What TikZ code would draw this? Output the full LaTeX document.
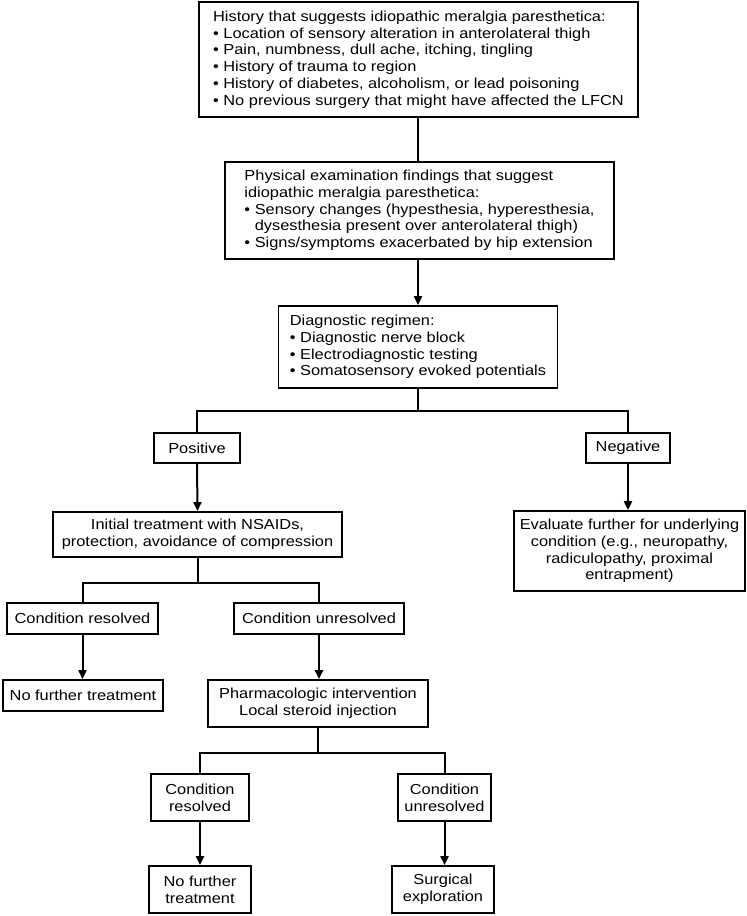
\documentclass[tikz,border=0pt]{standalone}
\usepackage{fontspec}
\setmainfont[FakeStretch=1.13]{Liberation Sans}
\usetikzlibrary{arrows.meta,calc}
\tikzset{
    box/.style =    {rectangle,
                    fill=white,
                    draw=black,
                    text=black,
                    line width=1.8pt,
                    inner sep=4pt,
                    font=\fontsize{14.5}{16.7}\selectfont},
    listbox/.style = {box,
                    align=left},
    midbox/.style = {box,
                    align=center},
    -,
    wire/.style =   {draw=black,
                    line width=2pt},
    >={Triangle[length=9pt,width=8pt]}}
\newcommand{\bul}{\textbullet~}
\newcommand{\bulgap}{\hphantom{\textbullet~}}

\begin{document}
\begin{tikzpicture}[x=1pt,y=-1pt]
    \useasboundingbox (0,0) rectangle (747,916);
    % top of the chart
    \node[listbox, minimum width=439, minimum height=115] (hist) at (418.5,59.5)
        {History that suggests idiopathic meralgia paresthetica:\\
         \bul Location of sensory alteration in anterolateral thigh\\
         \bul Pain, numbness, dull ache, itching, tingling\\
         \bul History of trauma to region\\
         \bul History of diabetes, alcoholism, or lead poisoning\\
         \bul No previous surgery that might have affected the LFCN};
    \node[listbox, minimum width=389, minimum height=97] (exam) at (419.5,210.5)
        {Physical examination findings that suggest\\
         idiopathic meralgia paresthetica:\\
         \bul Sensory changes (hypesthesia, hyperesthesia,\\
         \bulgap dysesthesia present over anterolateral thigh)\\
         \bul Signs/symptoms exacerbated by hip extension};
    \node[listbox, minimum width=279, minimum height=82] (diag) at (418,347)
        {Diagnostic regimen:\\
         \bul Diagnostic nerve block\\
         \bul Electrodiagnostic testing\\
         \bul Somatosensory evoked potentials};
    % positive / negative
    \node[midbox, minimum width=86, minimum height=30] (pos) at (197,448) {Positive};
    \node[midbox, minimum width=84, minimum height=30] (neg) at (628,448) {Negative};
    \node[midbox, minimum width=289, minimum height=45] (init) at (197.5,534.5)
        {Initial treatment with NSAIDs,\\ protection, avoidance of compression};
    \node[midbox, minimum width=231, minimum height=80] (eval) at (629.5,551)
        {Evaluate further for underlying\\ condition (e.g., neuropathy,\\
         radiculopathy, proximal\\ entrapment)};
    % first treatment outcome
    \node[midbox, minimum width=151, minimum height=31] (resA) at (82.5,618.5) {Condition resolved};
    \node[midbox, minimum width=170, minimum height=31] (unresA) at (319,618.5) {Condition unresolved};
    \node[midbox, minimum width=160, minimum height=31] (stopA) at (83,695.5) {No further treatment};
    \node[midbox, minimum width=220, minimum height=47] (pharm) at (318,703.5)
        {Pharmacologic intervention\\ Local steroid injection};
    % second treatment outcome
    \node[midbox, minimum width=98, minimum height=47] (resB) at (200,797.5) {Condition\\ resolved};
    \node[midbox, minimum width=93, minimum height=47] (unresB) at (444.5,797.5) {Condition\\ unresolved};
    \node[midbox, minimum width=102, minimum height=47] (stopB) at (200,889.5) {No further\\ treatment};
    \node[midbox, minimum width=102, minimum height=47] (surg) at (443,889.5) {Surgical\\ exploration};

    \draw[wire] (diag.north |- hist.south) -- (diag.north |- exam.north);
    \draw[wire,->] (diag.north |- exam.south) -- (diag.north);
    \draw[wire] (diag.south) -- ++(0,22) coordinate (splitA);
    \draw[wire] (splitA) -| (pos.north);
    \draw[wire] (splitA) -| (neg.north);
    \draw[wire,->] (pos.south) -- (init.north);
    \draw[wire,->] (neg.south) -- (neg.south |- eval.north);
    \draw[wire] (init.south) -- ++(0,25) coordinate (splitB);
    \draw[wire] (splitB) -| (resA.north);
    \draw[wire] (splitB) -| (unresA.north);
    \draw[wire,->] (resA.south) -- (resA.south |- stopA.north);
    \draw[wire,->] (unresA.south) -- (unresA.south |- pharm.north);
    \draw[wire] (pharm.south) -- ++(0,25) coordinate (splitC);
    \draw[wire] (splitC) -| (resB.north);
    \draw[wire] (splitC) -| (unresB.north);
    \draw[wire,->] (resB.south) -- (resB.south |- stopB.north);
    \draw[wire,->] (unresB.south) -- (unresB.south |- surg.north);
\end{tikzpicture}
\end{document}
